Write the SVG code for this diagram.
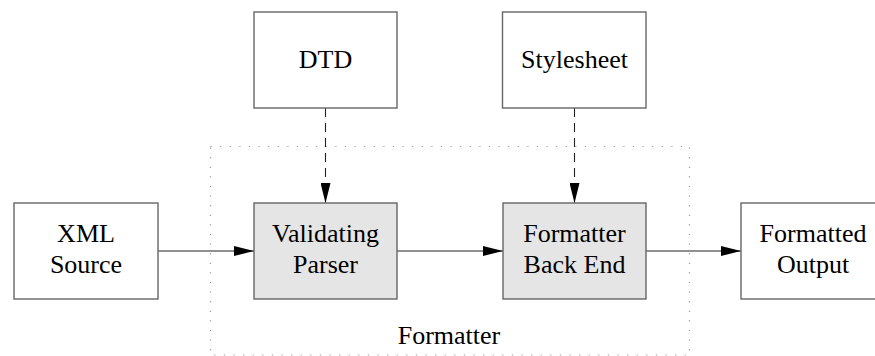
<svg xmlns="http://www.w3.org/2000/svg" width="875" height="356" viewBox="0 0 875 356">
  <defs>
    <marker id="arrow" viewBox="0 0 20 10" refX="20" refY="5" markerWidth="20" markerHeight="10" markerUnits="userSpaceOnUse" orient="auto">
      <path d="M0,0 L20,5 L0,10 Z" fill="#000"/>
    </marker>
  </defs>
  <style>
    .box { fill: #ffffff; stroke: #666666; stroke-width: 1.4; }
    .proc { fill: #e5e5e5; stroke: #666666; stroke-width: 1.4; }
    .lbl { font-family: "Liberation Serif", "Times New Roman", serif; font-size: 26px; fill: #000; text-anchor: middle; }
    .flow { stroke: #222; stroke-width: 1.1; fill: none; marker-end: url(#arrow); }
    .dash { stroke-dasharray: 9 6; }
    .group { fill: none; stroke: #999; stroke-width: 1.2; stroke-dasharray: 1.2 8.4; }
  </style>
  <rect width="875" height="356" fill="#ffffff"/>
  <g id="formatter-group">
    <rect class="group" x="210.5" y="146.5" width="479" height="208.5"/>
    <text class="lbl" x="449" y="344">Formatter</text>
  </g>
  <g id="connectors">
    <line class="flow dash" x1="325.5" y1="108" x2="325.5" y2="203"/>
    <line class="flow dash" x1="574.5" y1="108" x2="574.5" y2="203"/>
    <line class="flow" x1="158" y1="251" x2="254" y2="251"/>
    <line class="flow" x1="397" y1="251" x2="503" y2="251"/>
    <line class="flow" x1="646" y1="251" x2="741" y2="251"/>
  </g>
  <g id="dtd">
    <rect class="box" x="254" y="12" width="143" height="96"/>
    <text class="lbl" x="325.5" y="68">DTD</text>
  </g>
  <g id="stylesheet">
    <rect class="box" x="502.5" y="12" width="143.5" height="96"/>
    <text class="lbl" x="574.5" y="68">Stylesheet</text>
  </g>
  <g id="xml-source">
    <rect class="box" x="14" y="203" width="144" height="96"/>
    <text class="lbl" x="86" y="242">XML</text>
    <text class="lbl" x="86" y="273">Source</text>
  </g>
  <g id="validating-parser">
    <rect class="proc" x="254" y="203" width="143" height="96"/>
    <text class="lbl" x="325.5" y="242">Validating</text>
    <text class="lbl" x="325.5" y="273">Parser</text>
  </g>
  <g id="formatter-back-end">
    <rect class="proc" x="503" y="203" width="143" height="96"/>
    <text class="lbl" x="574.5" y="242">Formatter</text>
    <text class="lbl" x="574.5" y="273">Back End</text>
  </g>
  <g id="formatted-output">
    <rect class="box" x="741" y="203" width="144" height="96"/>
    <text class="lbl" x="813" y="242">Formatted</text>
    <text class="lbl" x="813" y="273">Output</text>
  </g>
</svg>
